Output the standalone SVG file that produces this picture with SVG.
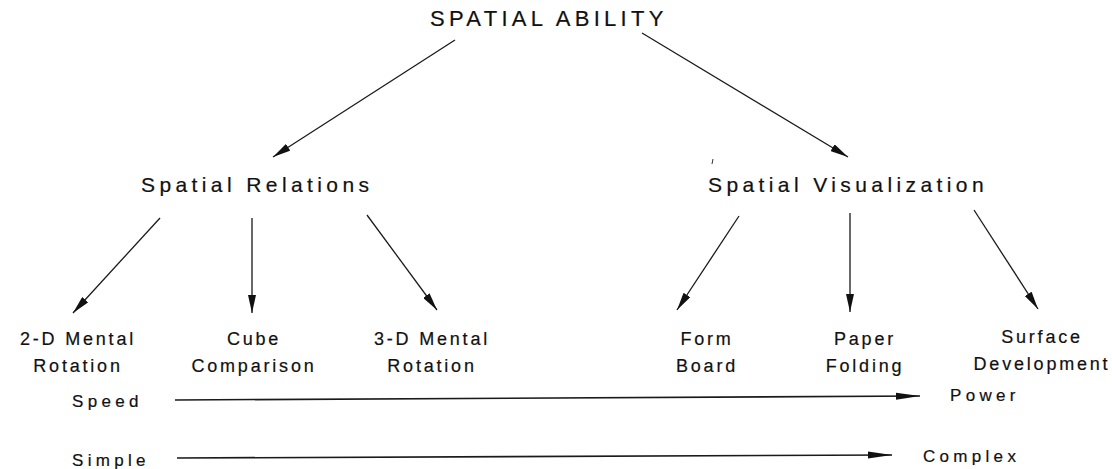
<svg xmlns="http://www.w3.org/2000/svg" width="1112" height="469" viewBox="0 0 1112 469">
<defs>
<style>
text{font-family:"Liberation Sans",Arial,Helvetica,sans-serif;fill:#111;stroke:#111;stroke-width:0.2;}
.t0{font-size:22px;letter-spacing:4.3px;}
.t1{font-size:21px;letter-spacing:4.4px;}
.t2{font-size:18px;letter-spacing:2.8px;text-anchor:middle;}
.t3{font-size:17px;letter-spacing:4.3px;}
.c{stroke:#1a1a1a;stroke-width:1.3;fill:none;}
.h{stroke:#1a1a1a;stroke-width:1.6;fill:none;}
</style>
<marker id="ah" viewBox="0 0 18 8" refX="18" refY="4" markerWidth="18" markerHeight="8" orient="auto" markerUnits="userSpaceOnUse">
<path d="M0,0 L18,4 L0,8 z" fill="#111"/>
</marker>
<marker id="ahl" viewBox="0 0 24 8" refX="24" refY="4" markerWidth="24" markerHeight="8" orient="auto" markerUnits="userSpaceOnUse">
<path d="M0,0.5 L24,4 L0,7.5 z" fill="#111"/>
</marker>
</defs>
<rect width="1112" height="469" fill="#fff"/>

<g id="connectors">
<line class="c" x1="455" y1="40" x2="273" y2="157" marker-end="url(#ah)"/>
<line class="c" x1="642" y1="33" x2="848" y2="157" marker-end="url(#ah)"/>
<line class="c" x1="160" y1="218" x2="73" y2="313" marker-end="url(#ah)"/>
<line class="c" x1="252" y1="218" x2="252" y2="313" marker-end="url(#ah)"/>
<line class="c" x1="367" y1="215" x2="437" y2="310" marker-end="url(#ah)"/>
<line class="c" x1="739" y1="216" x2="677" y2="310" marker-end="url(#ah)"/>
<line class="c" x1="850" y1="213" x2="850" y2="312" marker-end="url(#ah)"/>
<line class="c" x1="974" y1="210" x2="1038" y2="309" marker-end="url(#ah)"/>
<line class="h" x1="175" y1="400" x2="920" y2="396" marker-end="url(#ahl)"/>
<line class="h" x1="177" y1="458" x2="892" y2="455" marker-end="url(#ahl)"/>
<path d="M713,159 L712,164" stroke="#333" stroke-width="1" fill="none"/>
</g>

<g id="spatial-ability"><text class="t0" x="430" y="26">SPATIAL ABILITY</text></g>
<g id="spatial-relations"><text class="t1" x="141" y="192">Spatial Relations</text></g>
<g id="spatial-visualization"><text class="t1" x="708" y="192">Spatial Visualization</text></g>

<g id="mental-2d"><text class="t2" x="78" y="345">2-D Mental</text><text class="t2" x="78" y="372">Rotation</text></g>
<g id="cube-comparison"><text class="t2" x="254" y="345">Cube</text><text class="t2" x="254" y="372">Comparison</text></g>
<g id="mental-3d"><text class="t2" x="432" y="345">3-D Mental</text><text class="t2" x="432" y="372">Rotation</text></g>
<g id="form-board"><text class="t2" x="707" y="345">Form</text><text class="t2" x="707" y="372">Board</text></g>
<g id="paper-folding"><text class="t2" x="865" y="345">Paper</text><text class="t2" x="865" y="372">Folding</text></g>
<g id="surface-development"><text class="t2" x="1042" y="343">Surface</text><text class="t2" x="1042" y="370">Development</text></g>

<g id="speed"><text class="t3" x="72" y="407">Speed</text></g>
<g id="power"><text class="t3" x="950" y="401">Power</text></g>
<g id="simple"><text class="t3" x="72" y="466">Simple</text></g>
<g id="complex"><text class="t3" x="923" y="462">Complex</text></g>
</svg>
